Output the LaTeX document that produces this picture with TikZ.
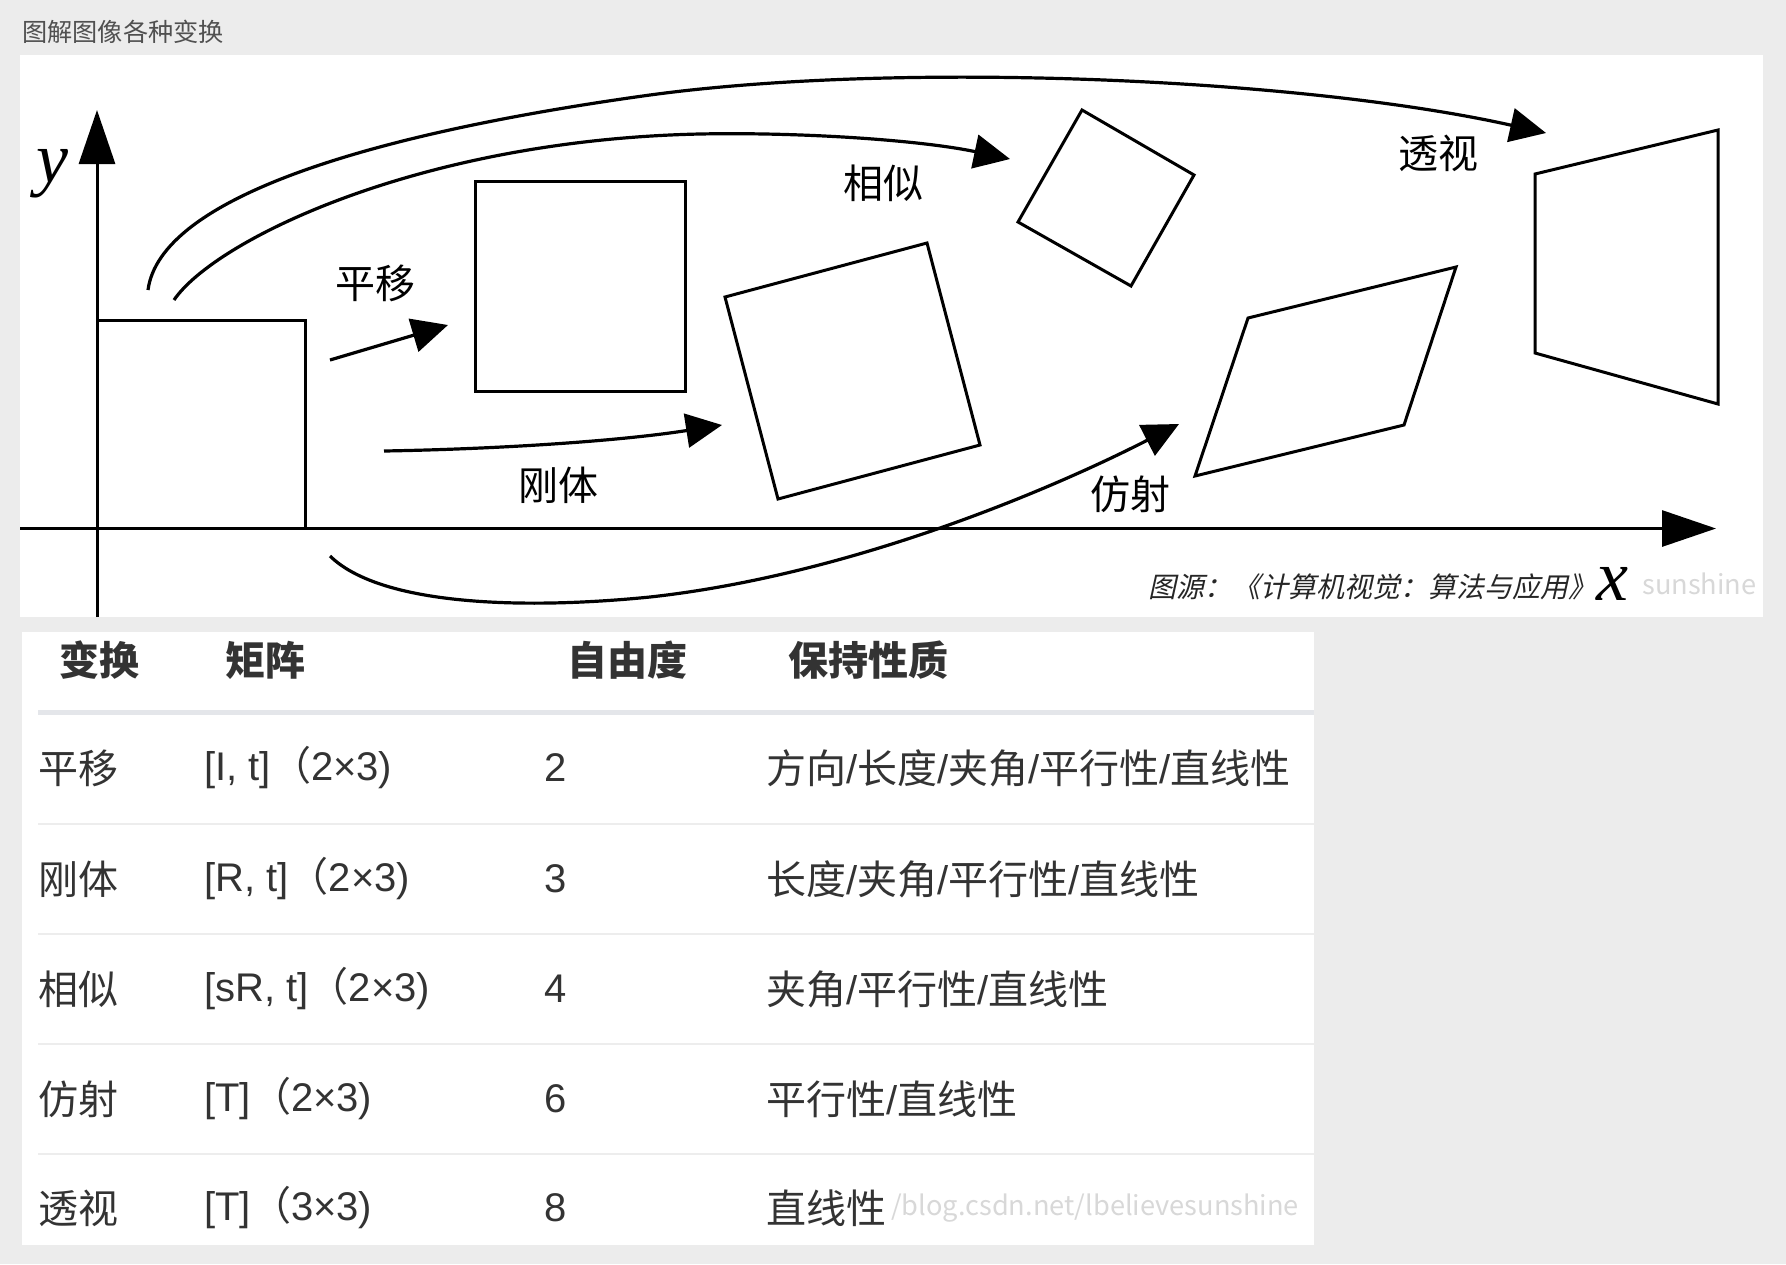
\documentclass[tikz,border=0pt]{standalone}
\usepackage{fontspec}
\newfontfamily\cjk{Noto Sans CJK SC}
\newfontfamily\cjkit{Noto Sans CJK SC}[FakeSlant=0.22]
\newfontfamily\lat{Liberation Sans}
\newfontfamily\timesf{Liberation Serif}
\newcommand{\sls}{{\lat /}}
\usetikzlibrary{arrows.meta}
\definecolor{pagebg}{HTML}{ECECEC}
\definecolor{titlegray}{HTML}{505050}
\definecolor{tabtext}{HTML}{333333}
\definecolor{headline}{HTML}{E4E6EA}
\definecolor{rowline}{HTML}{EDEDED}
\definecolor{wmark}{HTML}{D8D8D8}
\begin{document}
\begin{tikzpicture}[x=0.5pt,y=-0.5pt,
  quad/.style={draw=black, line width=1.5pt, line join=miter},
  curvearrow/.style={line width=1.6pt, -{Triangle[length=18pt,width=17pt]}},
  axisarrow/.style={line width=1.5pt, -{Triangle[length=27pt,width=18pt]}},
  lbl/.style={font=\cjk\fontsize{20}{20}\selectfont, inner sep=0pt},
  axlbl/.style={font=\timesf\itshape\fontsize{36}{36}\selectfont, inner sep=0pt},
  cell/.style={font=\cjk\fontsize{20}{20}\selectfont, text=tabtext, inner sep=0pt, anchor=west},
  headcell/.style={font=\cjk\bfseries\fontsize{20}{20}\selectfont, text=tabtext, inner sep=0pt, anchor=west},
  wm/.style={font=\cjk\fontsize{13.6}{13.6}\selectfont, text=wmark, inner sep=0pt, anchor=west}
]
% page and panels
\fill[pagebg] (0,0) rectangle (1786,1264);
\useasboundingbox (0,0) rectangle (1786,1264);
\node[font=\cjk\fontsize{12.6}{12.6}\selectfont, text=titlegray, anchor=west, inner sep=0pt] (title) at (22,32) {图解图像各种变换};
\fill[white] (20,55) rectangle (1763,617);
\fill[white] (22,632) rectangle (1314,1245);

% axes
\coordinate (ybot) at (97,617);
\coordinate (ytip) at (97,110);
\coordinate (xleft) at (20,528.5);
\coordinate (xtip) at (1716,528.5);
\draw[axisarrow] (ybot) -- (ytip);
\draw[axisarrow] (xleft) -- (xtip);
\node[axlbl] (ylab) at (52,174) {y};
\node[axlbl] (xlab) at (1612,584) {x};
\node[wm] (wm1) at (1642,584) {sunshine};

% shapes
\draw[quad] (97,320) rectangle (305,528.5);
\draw[quad] (475,181) rectangle (685,391);
\draw[quad] (725,297) -- (927,243) -- (980,445) -- (778,499) -- cycle;
\draw[quad] (1082,110) -- (1194,175) -- (1131,286) -- (1018,222) -- cycle;
\draw[quad] (1248,318) -- (1456,267) -- (1404,425) -- (1195,476) -- cycle;
\draw[quad] (1535,174) -- (1718,130) -- (1718,404) -- (1535,353) -- cycle;

% arrows
\coordinate (pyA) at (330,360);
\coordinate (pyB) at (448,325);
\draw[curvearrow] (pyA) -- (pyB);

\coordinate (gtA) at (384,451);
\coordinate (gtB) at (722,425);
\draw[curvearrow] (gtA) .. controls (500,449) and (620,441) .. (gtB);

\coordinate (xsA) at (174,300);
\coordinate (xsM) at (700,134);
\coordinate (xsB) at (1010,159);
\draw[curvearrow] (xsA) .. controls (215,240) and (420,140) .. (xsM)
                  .. controls (800,132) and (920,140) .. (xsB);

\coordinate (tsA) at (148,290);
\coordinate (tsM) at (650,95);
\coordinate (tsB) at (1546,133);
\draw[curvearrow] (tsA) .. controls (160,200) and (360,135) .. (tsM)
                  .. controls (900,61) and (1300,78) .. (tsB);

\coordinate (fsA) at (330,556);
\coordinate (fsM) at (650,597);
\coordinate (fsB) at (1179,424);
\draw[curvearrow] (fsA) .. controls (380,605) and (520,610) .. (fsM)
                  .. controls (850,575) and (1050,490) .. (fsB);

% labels
\node[lbl] (lpy) at (375,283) {平移};
\node[lbl] (lgt) at (558,485) {刚体};
\node[lbl] (lxs) at (883,183) {相似};
\node[lbl] (lts) at (1438,153) {透视};
\node[lbl] (lfs) at (1130,494) {仿射};
\node[font=\cjkit\fontsize{14}{14}\selectfont, text=black!85, inner sep=0pt, anchor=west] (src) at (1148,587) {图源：《计算机视觉：算法与应用》};

% table
\draw[headline, line width=2.5pt] (38,712) -- (1314,712);
\foreach \yy in {824,934,1044,1154}
  \draw[rowline, line width=0.8pt] (38,\yy) -- (1314,\yy);

\node[headcell] (h1) at (59,660) {变换};
\node[headcell] (h2) at (225,660) {矩阵};
\node[headcell] (h3) at (567,660) {自由度};
\node[headcell] (h4) at (788,660) {保持性质};

\node[cell] (r1a) at (38,768) {平移};
\node[cell] (r1b) at (204,768) {{\lat [I, t]}（{\lat 2×3)}};
\node[cell] (r1c) at (544,768) {{\lat 2}};
\node[cell] (r1d) at (766,768) {方向\sls 长度\sls 夹角\sls 平行性\sls 直线性};

\node[cell] (r2a) at (38,879) {刚体};
\node[cell] (r2b) at (204,879) {{\lat [R, t]}（{\lat 2×3)}};
\node[cell] (r2c) at (544,879) {{\lat 3}};
\node[cell] (r2d) at (766,879) {长度\sls 夹角\sls 平行性\sls 直线性};

\node[cell] (r3a) at (38,989) {相似};
\node[cell] (r3b) at (204,989) {{\lat [sR, t]}（{\lat 2×3)}};
\node[cell] (r3c) at (544,989) {{\lat 4}};
\node[cell] (r3d) at (766,989) {夹角\sls 平行性\sls 直线性};

\node[cell] (r4a) at (38,1099) {仿射};
\node[cell] (r4b) at (204,1099) {{\lat [T]}（{\lat 2×3)}};
\node[cell] (r4c) at (544,1099) {{\lat 6}};
\node[cell] (r4d) at (766,1099) {平行性\sls 直线性};

\node[cell] (r5a) at (38,1208) {透视};
\node[cell] (r5b) at (204,1208) {{\lat [T]}（{\lat 3×3)}};
\node[cell] (r5c) at (544,1208) {{\lat 8}};
\node[cell] (r5d) at (766,1208) {直线性};
\node[wm] (wm2) at ([xshift=2pt]r5d.east) {/blog.csdn.net/lbelievesunshine};
\end{tikzpicture}
\end{document}
